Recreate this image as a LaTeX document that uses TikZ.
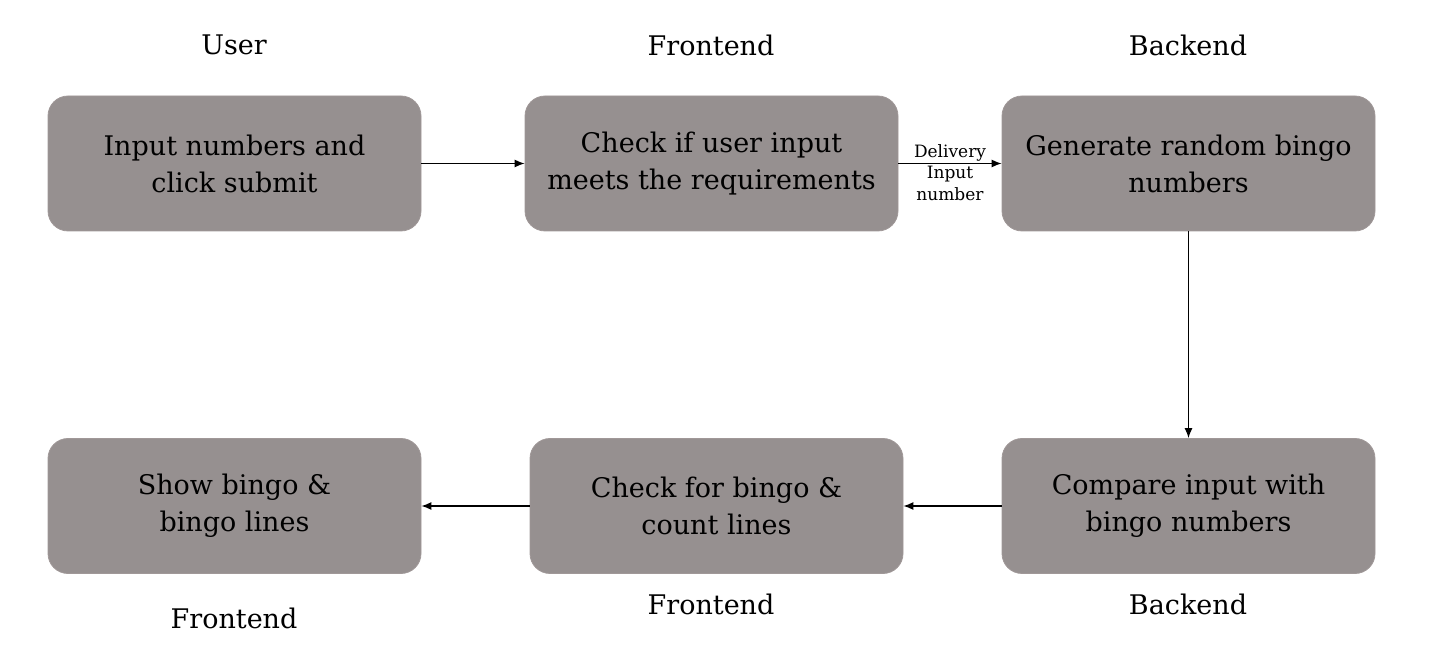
\documentclass[tikz,border=0pt]{standalone}
\usepackage{fontspec}
\setmainfont{DejaVu Serif}
\usepackage{tikz}
\usetikzlibrary{positioning, arrows.meta}

\definecolor{boxgrey}{RGB}{150,144,144}
\definecolor{boxedge}{RGB}{160,152,152}

\begin{document}
\begin{tikzpicture}[
            x=0.5pt, y=-0.5pt,
            box/.style={rectangle, rounded corners=10pt, draw=boxedge, fill=boxgrey, minimum width=186.5pt, minimum height=67.5pt, align=center, font=\fontsize{13.5}{18.5}\selectfont}, % grey step boxes
            lane/.style={font=\fontsize{13.5}{16}\selectfont}, % who does the step
            small/.style={font=\fontsize{8.5}{11.2}\selectfont, align=center}, % label on the arrow
            flow/.style={-{Latex[length=5pt, width=4pt]}, line width=0.6pt} % connector
            ]
        
                % frame of the whole picture
                \useasboundingbox (0,0) rectangle (1444,656);
        
                % top row
                \node[box] (input) at (234.5,163.5) {Input numbers and\\click submit};
                \node[box] (check) at (711.5,163.5) {Check if user input\\meets the requirements};
                \node[box] (generate) at (1188.5,163.5) {Generate random bingo\\numbers};
        
                % bottom row
                \node[box] (show) at (234.5,506) {Show bingo \&\\bingo lines};
                \node[box] (count) at (716.5,506) {Check for bingo \&\\count lines};
                \node[box] (compare) at (1188.5,506) {Compare input with\\bingo numbers};
        
                % lanes
                \node[lane] (user) at (234,45) {User};
                \node[lane] (front1) at (711,45) {Frontend};
                \node[lane] (back1) at (1188,45) {Backend};
                \node[lane] (front3) at (234,618) {Frontend};
                \node[lane] (front2) at (711,604) {Frontend};
                \node[lane] (back2) at (1188,604) {Backend};
        
                % connectors
                \draw[flow] (input) -- (check);
                \draw[flow] (check) -- node[small, above, inner sep=1pt] {Delivery} node[small, below, inner sep=1pt] {Input\\number} (generate);
                \draw[flow] (generate) -- (compare);
                \draw[flow] (compare) -- (count);
                \draw[flow] (count) -- (show);
        
            \end{tikzpicture}
\end{document}
